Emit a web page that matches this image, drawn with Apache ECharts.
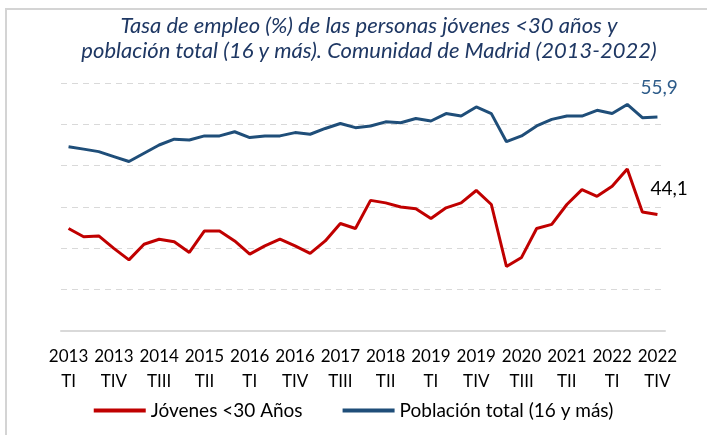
<!DOCTYPE html>
<html>
<head>
<meta charset="utf-8">
<script src="https://cdn.jsdelivr.net/npm/echarts@6/dist/echarts.min.js"></script>
<style>
  html, body { margin: 0; padding: 0; background: #fff; }
  #chart { width: 707px; height: 435px; }
</style>
</head>
<body>
<div id="chart"></div>
<script>
// quarters 2013 TI .. 2022 TIV
const years = ['2013', '2014', '2015', '2016', '2017', '2018', '2019', '2020', '2021', '2022']
const quarters = ['TI', 'TII', 'TIII', 'TIV']
const categories = []
years.forEach(y => quarters.forEach(q => categories.push(y + ' ' + q)))

// Jóvenes <30 años
const jovenes = [
  42.4, 41.4, 41.5, 40.0, 38.6, 40.5, 41.1, 40.8, 39.5, 42.1,
  42.1, 40.9, 39.3, 40.3, 41.1, 40.3, 39.4, 40.9, 43.0, 42.4,
  45.8, 45.5, 45.0, 44.8, 43.6, 44.9, 45.5, 47.0, 45.3, 37.8,
  38.9, 42.4, 42.9, 45.3, 47.1, 46.3, 47.5, 49.6, 44.4, 44.1
]
// Población total (16 y más)
const total = [
  52.3, 52.0, 51.7, 51.1, 50.5, 51.5, 52.5, 53.2, 53.1, 53.6,
  53.6, 54.1, 53.4, 53.6, 53.6, 54.0, 53.8, 54.5, 55.1, 54.6,
  54.8, 55.3, 55.2, 55.7, 55.4, 56.3, 56.0, 57.1, 56.3, 52.9,
  53.6, 54.8, 55.6, 56.0, 56.0, 56.7, 56.3, 57.4, 55.8, 55.9
]

const font = 'Lato, "Noto Sans", sans-serif'
const fmt = p => p.value.toFixed(1).replace('.', ',')

const chart = echarts.init(document.getElementById('chart'))
chart.setOption({
  animation: false,
  title: {
    text: 'Tasa de empleo (%) de las personas jóvenes <30 años y\npoblación total (16 y más). Comunidad de Madrid (2013-2022)',
    left: 364,
    textAlign: 'center',
    top: 8,
    textStyle: {
      fontFamily: font,
      fontStyle: 'italic',
      fontWeight: 'normal',
      fontSize: 22,
      lineHeight: 25,
      color: '#1f3864'
    }
  },
  graphic: [{
    type: 'rect',
    shape: { x: 6, y: 9, width: 720, height: 500 },
    style: { fill: 'none', stroke: '#d4d4d4', lineWidth: 2 },
    silent: true
  }],
  legend: {
    bottom: 10,
    left: 'center',
    itemWidth: 52,
    itemHeight: 4,
    itemGap: 40,
    icon: 'rect',
    textStyle: { fontFamily: font, fontSize: 19, color: '#000', padding: [0, 0, 0, 0] },
    data: ['Jóvenes <30 Años', 'Población total (16 y más)']
  },
  grid: { left: 61, right: 42, top: 83, bottom: 104 },
  xAxis: {
    type: 'category',
    data: categories,
    axisLine: { lineStyle: { color: '#d9d9d9', width: 2 } },
    axisTick: { show: false },
    axisLabel: {
      interval: 2,
      margin: 13,
      fontFamily: font,
      fontSize: 17,
      lineHeight: 25,
      color: '#000',
      formatter: v => v.replace(' ', '\n')
    }
  },
  yAxis: {
    type: 'value',
    min: 30,
    max: 60,
    interval: 5,
    axisLabel: { show: false },
    axisLine: { show: false },
    axisTick: { show: false },
    splitLine: { lineStyle: { color: '#d9d9d9', type: [6, 5], width: 1 } }
  },
  series: [{
    name: 'Jóvenes <30 Años',
    type: 'line',
    data: jovenes,
    symbol: 'none',
    color: '#c00000',
    lineStyle: { width: 3 },
    endLabel: {
      show: true,
      offset: [-15, -26],
      fontFamily: font,
      fontSize: 19,
      color: '#000',
      formatter: fmt
    }
  }, {
    name: 'Población total (16 y más)',
    type: 'line',
    data: total,
    symbol: 'none',
    color: '#1f4e79',
    lineStyle: { width: 3 },
    endLabel: {
      show: true,
      offset: [-25, -29],
      fontFamily: font,
      fontSize: 19,
      color: '#2e5c8a',
      formatter: fmt
    }
  }]
})
</script>
</body>
</html>
